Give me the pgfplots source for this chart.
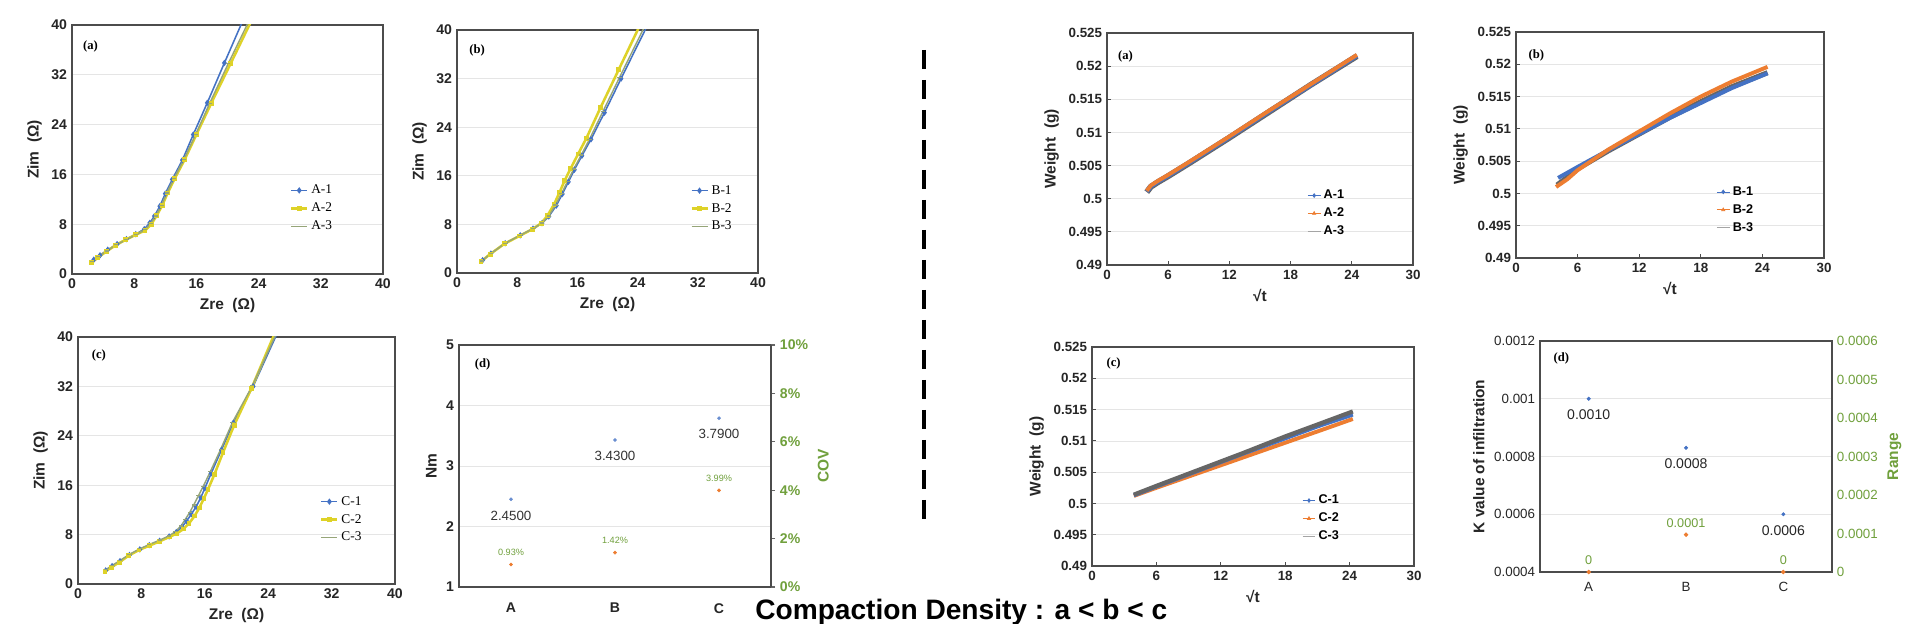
\documentclass[border=0pt]{standalone}
\usepackage{fontspec}
\setmainfont{Liberation Sans}
\newfontfamily\serif{Liberation Serif}
\usepackage{pgfplots}
\pgfplotsset{compat=1.18}
\definecolor{cblue}{HTML}{4472C4}
\definecolor{corange}{HTML}{ED7D31}
\definecolor{cgray}{HTML}{A5A5A5}
\definecolor{cyellow}{RGB}{222,210,40}
\definecolor{cgg}{RGB}{150,165,120}
\definecolor{cgreen}{RGB}{112,160,60}
\tikzset{plab/.style={anchor=west, font=\serif\bfseries\fontsize{9}{11}\selectfont}}
\pgfplotsset{
  base/.style={scale only axis, axis line style={draw=black!70, line width=1.1pt},
    ymajorgrids, grid style={black!10, line width=0.5pt},
    tick pos=left, scaled ticks=false,
    /pgf/number format/assume math mode=true,
    tick label style={font=\fontsize{10}{12}\selectfont\bfseries, text=black!85},
    label style={font=\fontsize{11}{13}\selectfont\bfseries, text=black!85},
    legend cell align=left},
  eis/.style={base, xmin=0,xmax=40,ymin=0,ymax=40, xtick={0,8,16,24,32,40}, ytick={0,8,16,24,32,40},
    major tick length=0pt, xlabel={Zre\ \ (Ω)}, ylabel={Zim\ \ (Ω)},
    legend style={draw=none, fill=none, inner sep=0pt, anchor=north west,
      font=\serif\fontsize{9.5}{11}\selectfont, row sep=1pt},
    legend image code/.code={\draw[mark repeat=2,mark phase=2,##1] plot coordinates {(0mm,0mm) (2mm,0mm) (4mm,0mm)};}},
  eA/.style={cblue, line width=1.1pt, mark=diamond*, mark size=1.4pt},
  eB/.style={cyellow, line width=1.8pt, mark=square*, mark size=0.8pt},
  eC/.style={cgg, line width=1.0pt, mark=-, mark size=1.5pt},
  wt/.style={base, xmin=0,xmax=30,ymin=0.49,ymax=0.525, xtick={0,6,12,18,24,30}, xticklabels={0,6,12,18,24,30},
    ytick={0.49,0.495,0.5,0.505,0.51,0.515,0.52,0.525},
    yticklabels={0.49,0.495,0.5,0.505,0.51,0.515,0.52,0.525},
    tick align=inside, major tick length=1mm, tick style={black!70, line width=0.8pt},
    tick label style={font=\fontsize{9.5}{11}\selectfont\bfseries},
    xlabel={√t}, ylabel={Weight\ \ (g)},
    legend style={draw=none, fill=none, inner sep=0pt, anchor=north west,
      font=\fontsize{9}{11}\selectfont\bfseries, row sep=1pt},
    legend image code/.code={\draw[mark repeat=2,mark phase=2,##1] plot coordinates {(0mm,0mm) (1.6mm,0mm) (3.2mm,0mm)};}},
  cat/.style={base, xmin=-0.5,xmax=2.5, xtick={0,1,2}, xticklabels={A,B,C}, major tick length=0pt, clip=false},
  rax/.style={scale only axis, xmin=-0.5,xmax=2.5, axis x line=none, axis y line*=right,
    axis line style={draw=black!70, line width=1.1pt}, scaled ticks=false,
    tick align=outside, major tick length=1mm, tick style={black!60, line width=0.8pt},
    tick label style={font=\fontsize{10}{12}\selectfont\bfseries, text=cgreen},
    label style={font=\fontsize{11}{13}\selectfont\bfseries, text=cgreen}, clip=false}
}
\begin{document}
\begin{tikzpicture}
\useasboundingbox (0,0) rectangle (480mm,156mm);
\clip (0,0) rectangle (480mm,156mm);
\fill[white] (0,0) rectangle (480mm,156mm);

% ---------- Left (a)
\begin{axis}[eis, at={(18mm,87.5mm)}, width=77.75mm, height=62.25mm, legend style={at={(0.70,0.37)}}]
\addplot[eA] coordinates {(2.8,2.3) (3.6,3.0) (4.6,3.9) (5.8,4.8) (7.0,5.6) (8.2,6.4) (9.3,7.2) (10.0,8.2) (10.6,9.3) (11.3,10.9) (12.0,12.9) (12.9,15.2) (14.2,18.3) (15.6,22.4) (17.4,27.5) (19.6,33.9) (21.9,40.5)};
\addlegendentry{A-1}
\addplot[eB] coordinates {(2.5,1.8) (3.3,2.6) (4.4,3.6) (5.6,4.6) (6.9,5.5) (8.2,6.3) (9.4,7.0) (10.2,8.0) (10.9,9.4) (11.6,11.0) (12.3,13.0) (13.2,15.3) (14.5,18.4) (16.0,22.4) (17.9,27.4) (20.4,33.8) (23.0,40.5)};
\addlegendentry{A-2}
\addplot[eC] coordinates {(2.6,2.0) (3.4,2.8) (4.5,3.7) (5.7,4.7) (7.0,5.5) (8.2,6.3) (9.4,7.1) (10.1,8.1) (10.8,9.3) (11.5,11.0) (12.2,13.0) (13.1,15.3) (14.4,18.4) (15.9,22.4) (17.7,27.4) (20.1,33.8) (22.7,40.5)};
\addlegendentry{A-3}
\node[plab] at (rel axis cs:0.02,0.915) {(a)};
\end{axis}

% ---------- Left (b)
\begin{axis}[eis, at={(114.25mm,87.75mm)}, width=75.25mm, height=60.75mm, legend style={at={(0.774,0.374)}}]
\addplot[eA] coordinates {(3.4,2.1) (4.5,3.2) (6.4,4.9) (8.4,6.2) (10.1,7.3) (11.3,8.2) (12.2,9.3) (13.2,11.1) (14.0,13.0) (14.8,15.0) (15.6,17.0) (16.6,19.3) (17.8,22.0) (19.6,26.4) (21.8,32.0) (25.2,40.5)};
\addlegendentry{B-1}
\addplot[eB] coordinates {(3.2,1.9) (4.4,3.1) (6.3,4.8) (8.3,6.1) (10.0,7.2) (11.2,8.2) (12.0,9.4) (12.9,11.3) (13.6,13.2) (14.3,15.2) (15.1,17.2) (16.1,19.6) (17.2,22.2) (19.1,27.3) (21.5,33.5) (24.2,40.5)};
\addlegendentry{B-2}
\addplot[eC] coordinates {(3.3,2.0) (4.5,3.2) (6.4,4.9) (8.4,6.2) (10.1,7.3) (11.3,8.2) (12.2,9.4) (13.1,11.2) (13.9,13.1) (14.7,15.1) (15.5,17.1) (16.5,19.4) (17.6,22.0) (19.4,26.6) (21.6,32.2) (24.9,40.5)};
\addlegendentry{B-3}
\node[plab] at (rel axis cs:0.025,0.915) {(b)};
\end{axis}

% ---------- Left (c)
\begin{axis}[eis, at={(19.5mm,10mm)}, width=79.25mm, height=61.75mm, legend style={at={(0.763,0.368)}}]
\addplot[eA] coordinates {(3.5,2.2) (4.3,2.9) (5.3,3.7) (6.5,4.7) (7.8,5.6) (9.0,6.3) (10.3,7.0) (11.5,7.7) (12.4,8.4) (13.1,9.2) (13.7,10.2) (14.3,11.3) (14.9,12.5) (15.5,14.0) (16.0,15.5) (16.8,17.9) (18.1,21.7) (19.6,26.1) (22.1,32.0) (25.1,40.5)};
\addlegendentry{C-1}
\addplot[eB] coordinates {(3.4,2.0) (4.2,2.7) (5.2,3.5) (6.4,4.6) (7.7,5.5) (9.0,6.2) (10.3,6.9) (11.5,7.6) (12.5,8.2) (13.3,8.9) (14.0,9.8) (14.7,11.0) (15.3,12.3) (15.9,13.9) (16.4,15.3) (17.2,17.7) (18.3,21.3) (19.7,25.7) (21.9,31.7) (24.8,40.5)};
\addlegendentry{C-2}
\addplot[eC] coordinates {(3.5,2.3) (4.3,3.0) (5.3,3.8) (6.5,4.8) (7.8,5.7) (9.0,6.4) (10.3,7.1) (11.5,7.8) (12.3,8.5) (13.0,9.4) (13.5,10.4) (14.1,11.6) (14.6,12.8) (15.2,14.3) (15.8,15.8) (16.7,18.2) (18.0,21.8) (19.5,26.2) (22.0,32.1) (25.0,40.5)};
\addlegendentry{C-3}
\node[plab] at (rel axis cs:0.028,0.927) {(c)};
\end{axis}

% ---------- Left (d)
\begin{axis}[cat, at={(114.75mm,9.25mm)}, width=78mm, height=60.5mm, ymin=1, ymax=5,
  ytick={1,2,3,4,5}, yticklabels={1,2,3,4,5}, ylabel={Nm}, xticklabel style={yshift=-8pt}]
\addplot[only marks, mark=*, mark size=1.1pt, cblue!80, nodes near coords, point meta=explicit symbolic,
  every node near coord/.style={anchor=center, yshift=-11.5pt, font=\fontsize{9.5}{11}\selectfont, text=black!80}]
  coordinates {(0,2.45) [2.4500] (1,3.43) [3.4300] (2,3.79) [3.7900]};
\node[plab] at (rel axis cs:0.035,0.92) {(d)};
\end{axis}
\begin{axis}[rax, at={(114.75mm,9.25mm)}, width=78mm, height=60.5mm, ymin=0, ymax=10,
  ytick={0,2,4,6,8,10}, yticklabels={0\%,2\%,4\%,6\%,8\%,10\%}, ylabel={COV}]
\addplot[only marks, mark=*, mark size=1.1pt, corange, nodes near coords, point meta=explicit symbolic,
  every node near coord/.style={anchor=center, yshift=8.5pt, font=\fontsize{6.5}{8}\selectfont, text=cgreen}]
  coordinates {(0,0.93) [0.93\%] (1,1.42) [1.42\%] (2,3.99) [3.99\%]};
\end{axis}

% ---------- dashed separator and caption
\draw[line width=1mm, dash pattern=on 4.75mm off 2.75mm] (231mm,143.5mm) -- (231mm,24mm);
\node[anchor=base west, inner sep=0pt, font=\fontsize{20}{24}\selectfont\bfseries] at (188.75mm,1mm) {Compaction Density : a < b < c};

% ---------- Right (a)
\begin{axis}[wt, at={(276.75mm,89.75mm)}, width=76.5mm, height=58mm, legend style={at={(0.654,0.336)}}]
\addplot[black!60, line width=4.2pt, forget plot] coordinates {(3.9,0.5010) (4.3,0.5018) (5,0.5025) (6,0.5034) (8,0.5053) (12,0.5092) (16,0.5132) (20,0.5172) (24.5,0.5215)};
\addplot[cblue, line width=3.4pt, forget plot] coordinates {(3.9,0.5011) (4.3,0.5019) (5,0.5026) (6,0.5035) (8,0.5054) (12,0.5093) (16,0.5133) (20,0.5172) (24.5,0.5216)};
\addplot[corange, line width=2.8pt, forget plot] coordinates {(3.9,0.5012) (4.3,0.5020) (5,0.5027) (6,0.5036) (8,0.5055) (12,0.5094) (16,0.5134) (20,0.5173) (24.5,0.5217)};
\addlegendimage{cblue, mark=diamond*, mark size=1.3pt, line width=0.5pt}\addlegendentry{A-1}
\addlegendimage{corange, mark=triangle*, mark size=1.3pt, line width=0.5pt}\addlegendentry{A-2}
\addlegendimage{cgray, mark=-, mark size=1.3pt, line width=0.5pt}\addlegendentry{A-3}
\node[plab] at (rel axis cs:0.02,0.897) {(a)};
\end{axis}

% ---------- Right (b)
\begin{axis}[wt, at={(379mm,91.5mm)}, width=77mm, height=56.5mm, legend style={at={(0.65,0.33)}}]
\addplot[black!60, line width=3.6pt, forget plot] coordinates {(4.0,0.5013) (5,0.5025) (6,0.5038) (9,0.5066) (12,0.5092) (15,0.5118) (18,0.5142) (21,0.5165) (24.5,0.5187)};
\addplot[cblue, line width=2.8pt, forget plot] coordinates {(4.1,0.5024) (6,0.5041) (9,0.5067) (12,0.5092) (15,0.5117) (18,0.5140) (21,0.5163) (24.5,0.5186)};
\addplot[corange, line width=2.8pt, forget plot] coordinates {(3.9,0.5010) (5,0.5022) (6,0.5036) (9,0.5068) (12,0.5096) (15,0.5124) (18,0.5150) (21,0.5173) (24.5,0.5196)};
\addlegendimage{cblue, mark=diamond*, mark size=1.3pt, line width=0.5pt}\addlegendentry{B-1}
\addlegendimage{corange, mark=triangle*, mark size=1.3pt, line width=0.5pt}\addlegendentry{B-2}
\addlegendimage{cgray, mark=-, mark size=1.3pt, line width=0.5pt}\addlegendentry{B-3}
\node[plab] at (rel axis cs:0.025,0.897) {(b)};
\end{axis}

% ---------- Right (c)
\begin{axis}[wt, at={(273mm,14.5mm)}, width=80.5mm, height=54.75mm, legend style={at={(0.652,0.338)}}]
\addplot[corange, line width=2.8pt, forget plot] coordinates {(3.9,0.5012) (6,0.5025) (10,0.5049) (14,0.5073) (18,0.5097) (21,0.5115) (24.3,0.5135)};
\addplot[cblue, line width=2.8pt, forget plot] coordinates {(3.9,0.5013) (6,0.5027) (10,0.5053) (14,0.5079) (18,0.5104) (21,0.5123) (24.3,0.5142)};
\addplot[black!60, line width=3.0pt, forget plot] coordinates {(3.9,0.5014) (6,0.5028) (10,0.5054) (14,0.5080) (18,0.5107) (21,0.5126) (24.3,0.5147)};
\addlegendimage{cblue, mark=diamond*, mark size=1.3pt, line width=0.5pt}\addlegendentry{C-1}
\addlegendimage{corange, mark=triangle*, mark size=1.3pt, line width=0.5pt}\addlegendentry{C-2}
\addlegendimage{cgray, mark=-, mark size=1.3pt, line width=0.5pt}\addlegendentry{C-3}
\node[plab] at (rel axis cs:0.03,0.927) {(c)};
\end{axis}

% ---------- Right (d)
\begin{axis}[cat, at={(385mm,13mm)}, width=73mm, height=57.75mm, ymin=0.0004, ymax=0.0012,
  ytick={0.0004,0.0006,0.0008,0.001,0.0012}, yticklabels={0.0004,0.0006,0.0008,0.001,0.0012},
  ylabel={K value of infiltration}, xticklabel style={yshift=-4pt},
  tick label style={font=\fontsize{9.5}{11}\selectfont}]
\addplot[only marks, mark=*, mark size=1.2pt, cblue, nodes near coords, point meta=explicit symbolic,
  every node near coord/.style={anchor=center, yshift=-11.5pt, font=\fontsize{10}{12}\selectfont, text=black!85}]
  coordinates {(0,0.001) [0.0010] (1,0.00083) [0.0008] (2,0.0006) [0.0006]};
\node[plab] at (rel axis cs:0.03,0.926) {(d)};
\end{axis}
\begin{axis}[rax, at={(385mm,13mm)}, width=73mm, height=57.75mm, ymin=0, ymax=0.0006,
  ytick={0,0.0001,0.0002,0.0003,0.0004,0.0005,0.0006},
  yticklabels={0,0.0001,0.0002,0.0003,0.0004,0.0005,0.0006}, ylabel={Range},
  major tick length=0pt, tick label style={font=\fontsize{9.5}{11}\selectfont}]
\addplot[only marks, mark=*, mark size=1.4pt, corange, nodes near coords, point meta=explicit symbolic,
  every node near coord/.style={anchor=center, yshift=8.5pt, font=\fontsize{9}{11}\selectfont, text=cgreen}]
  coordinates {(0,0) [0] (1,0.000097) [0.0001] (2,0) [0]};
\end{axis}
\end{tikzpicture}
\end{document}
